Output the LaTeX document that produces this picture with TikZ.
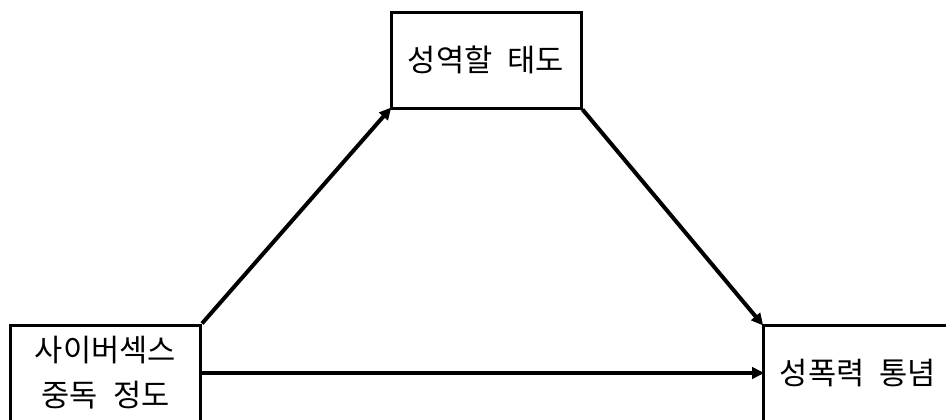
\documentclass[tikz,border=0pt]{standalone}
\usepackage{fontspec}
\setmainfont{Noto Sans CJK KR}
\usetikzlibrary{arrows.meta}
\newcommand{\wsp}{\hspace{0.5em}}
\begin{document}
\begin{tikzpicture}[x=0.75pt,y=-0.75pt,
  box/.style={draw=black,line width=2.25pt,fill=white,rectangle,minimum width=142.5pt,minimum height=72pt,inner sep=0pt,align=center,font=\fontsize{23}{33.75}\selectfont},
  conn/.style={line width=3pt,-{Triangle[length=9pt,width=8.5pt]},shorten >=-2pt}]
\useasboundingbox (0,0) rectangle (946,419);
\fill[white] (0,0) rectangle (946,419);
\node[box] (top) at (486,60) {성역할\wsp 태도};
\node[box] (left) at (105.5,373) {사이버섹스\\중독\wsp 정도};
\node[box] (right) at (858,373) {성폭력\wsp 통념};
\draw[conn] (left.north east) -- (top.south west);
\draw[conn] (top.south east) -- (right.north west);
\draw[conn] (left.east) -- (left.east -| right.west);
\end{tikzpicture}
\end{document}
